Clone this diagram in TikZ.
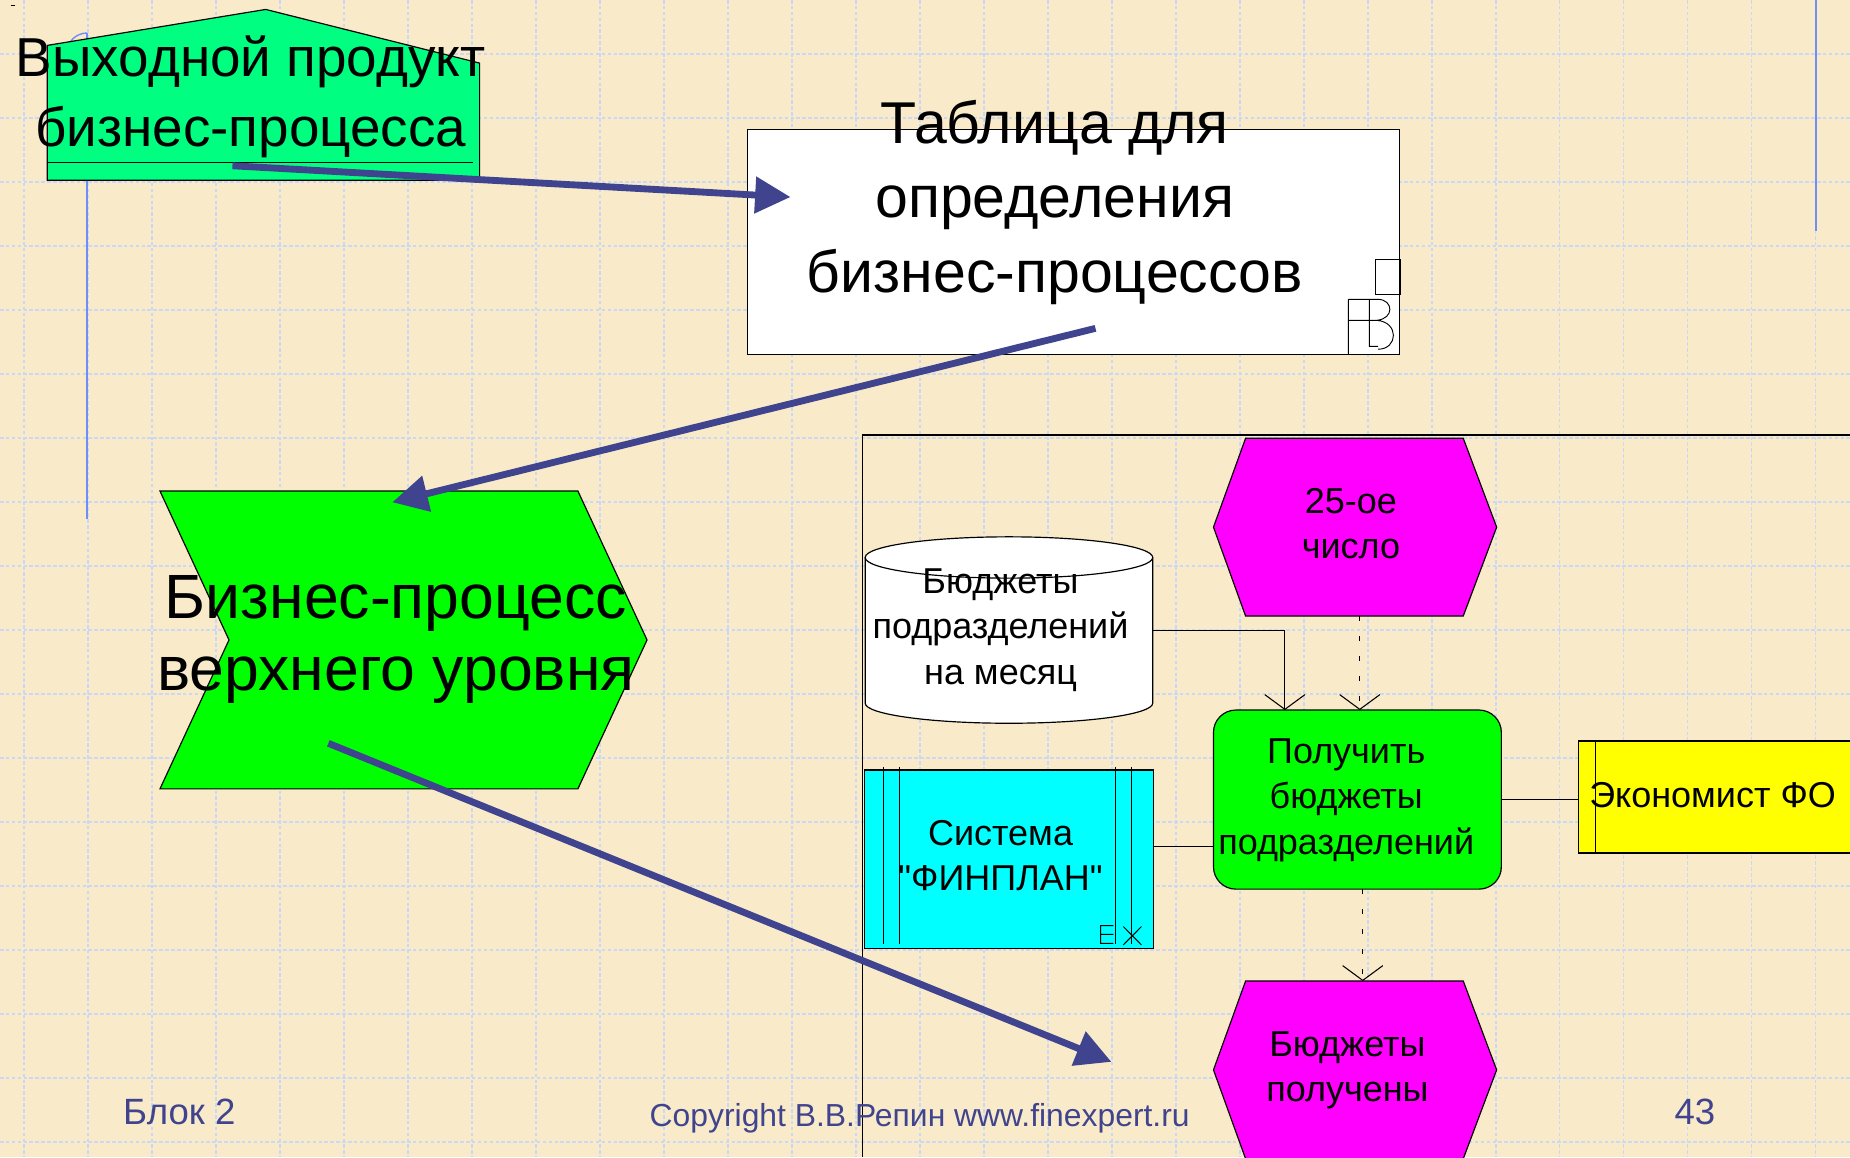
\documentclass[tikz,border=0pt]{standalone}
\usepackage{fontspec}
\setmainfont{Liberation Sans}
% same face without the TeX quote mapping, for straight quotes
\newfontfamily\straightquotes{Liberation Sans}
\usetikzlibrary{arrows.meta,calc}

\definecolor{paper}{RGB}{249,235,202}
\definecolor{gridblue}{RGB}{202,216,246}
\definecolor{marginblue}{RGB}{112,142,245}
\definecolor{ink}{RGB}{64,68,142}
\definecolor{prodgreen}{RGB}{0,255,128}
\definecolor{procgreen}{RGB}{0,255,0}
\definecolor{evmagenta}{RGB}{255,0,255}
\definecolor{syscyan}{RGB}{0,255,255}
\definecolor{orgyellow}{RGB}{255,255,0}

\pgfdeclarelayer{back}
\pgfdeclarelayer{shapes}
\pgfsetlayers{back,shapes,main}

\begin{document}
\begin{tikzpicture}[x=1pt,y=-1pt,
  holder/.style={inner sep=0pt,outer sep=0pt},
  gridline/.style={draw=gridblue,line width=1.1pt,dash pattern=on 3pt off 2pt},
  marginline/.style={draw=marginblue,line width=1.5pt},
  shapeline/.style={draw=black,line width=1pt},
  words/.style={inner sep=0pt,outer sep=0pt,align=center,text=black},
  hugetext/.style={words,font=\fontsize{53}{61.5}\selectfont},
  bigtext/.style={words,font=\fontsize{50}{63}\selectfont},
  prodtext/.style={words,font=\fontsize{46.5}{59}\selectfont},
  smalltext/.style={words,font=\fontsize{30.5}{38.5}\selectfont},
  foot/.style={inner sep=0pt,outer sep=0pt,text=ink},
  plainlink/.style={draw=black,line width=0.9pt},
  flowarrow/.style={plainlink,-{Straight Barb[length=12.5pt,width=34pt]}},
  trigarrow/.style={flowarrow,dash pattern=on 4pt off 13pt},
  thickarrow/.style={draw=ink,line width=5.8pt,-{Triangle[length=30pt,width=30pt]}}
]
\useasboundingbox (0,0) rectangle (1568,981);

% ---------- shape holders ----------
\node[holder,minimum width=366.5pt,minimum height=144.8pt] (prod) at (223.25,80.4) {};
\node[holder,minimum width=553pt,minimum height=191pt] (tab) at (910,205.3) {};
\node[holder,minimum width=412.8pt,minimum height=252.4pt] (proc) at (342,542.4) {};
\node[holder,minimum width=240pt,minimum height=150.6pt] (ev1) at (1148.5,446.8) {};
\node[holder,minimum width=243.7pt,minimum height=158pt] (store) at (855.15,534) {};
\node[holder,minimum width=244pt,minimum height=151.8pt] (func) at (1150.5,677.7) {};
\node[holder,minimum width=244.4pt,minimum height=151.4pt] (sys) at (855.2,728.3) {};
\node[holder,minimum width=240pt,minimum height=95pt] (org) at (1458,675.5) {};
\node[holder,minimum width=240pt,minimum height=150.6pt] (ev2) at (1148.5,906.8) {};

% ---------- page, grid and margin marks ----------
\begin{pgfonlayer}{back}
  \fill[paper] (0,0) rectangle (1568,981);
  \foreach \i in {0,...,28}
    \draw[gridline] ({20.3+54.24*\i},0) -- ({20.3+54.24*\i},981);
  \foreach \j in {0,...,17}
    \draw[gridline] (0,{45.8+54.24*\j}) -- (1568,{45.8+54.24*\j});
  \draw[marginline] (1539,0) -- (1539,196);
  \draw[marginline,line width=1.2pt] (73.7,28) -- (73.7,440);
  \draw[marginline,line width=1.2pt] (39.5,45) -- (73.7,45);
  \draw[marginline,line width=1.2pt] (56.7,45) arc[start angle=180,end angle=270,radius=17];
  \draw[black,line width=0.8pt] (9,5) -- (13,5);
\end{pgfonlayer}

% ---------- shapes ----------
\begin{pgfonlayer}{shapes}
  % product (house)
  \filldraw[fill=prodgreen,shapeline]
    (prod.south west) -- ($(prod.north west)+(0,30.5)$) -- ($(prod.north west)+(185.2,0)$)
    -- ($(prod.north east)+(0,45.5)$) -- (prod.south east) -- cycle;
  \draw[shapeline] ($(prod.south west)+(0,-15)$) -- ($(prod.south east)+(-6,-15)$);

  % table
  \filldraw[fill=white,shapeline] (tab.north west) rectangle (tab.south east);
  \draw[shapeline,line width=0.8pt] (1186.6,220) rectangle (1166,249.5);
  \draw[black,line width=0.8pt]
    (1142.8,253.7) -- (1142.8,300)
    (1142.8,253.7) -- (1160.6,253.7)
    (1142.8,271.5) -- (1160.6,271.5)
    (1160.6,253.7) -- (1160.6,293.5) -- (1168,293.5)
    (1160.6,253.7) -- (1168,253.7)
    (1160.6,271.5) -- (1167,271.5)
    (1168,253.7) .. controls (1181,254) and (1182,270) .. (1167,271.5)
    (1167,271.5) .. controls (1186,273) and (1185,296) .. (1168,296);

  % process (chevron)
  \filldraw[fill=procgreen,shapeline]
    (proc.north west) -- ($(proc.north east)+(-58.6,0)$) -- (proc.east)
    -- ($(proc.south east)+(-58.6,0)$) -- (proc.south west) -- ($(proc.west)+(58.5,0)$) -- cycle;

  % events (hexagons)
  \foreach \ev in {ev1,ev2}
    \filldraw[fill=evmagenta,shapeline]
      ($(\ev.north west)+(27.2,0)$) -- ($(\ev.north east)+(-28.3,0)$) -- (\ev.east)
      -- ($(\ev.south east)+(-28.3,0)$) -- ($(\ev.south west)+(27.2,0)$) -- (\ev.west) -- cycle;

  % data store (cylinder)
  \filldraw[fill=white,shapeline]
    ($(store.north west)+(0,17.5)$) -- ($(store.south west)+(0,-17)$)
    arc[start angle=180,end angle=0,x radius=121.85,y radius=17]
    -- ($(store.north east)+(0,17.5)$)
    arc[start angle=0,end angle=-180,x radius=121.85,y radius=17.5] -- cycle;
  \draw[shapeline] ($(store.north west)+(0,17.5)$)
    arc[start angle=180,end angle=0,x radius=121.85,y radius=17.5];

  % function (rounded box)
  \filldraw[fill=procgreen,shapeline,rounded corners=19pt] (func.north west) rectangle (func.south east);

  % application system
  \filldraw[fill=syscyan,shapeline] (sys.north west) rectangle (sys.south east);
  \foreach \x in {748.7,762.3,945.2,959.1}
    \draw[black,line width=0.8pt] (\x,650.5) -- (\x,800);
  \draw[black,line width=0.8pt]
    (943.6,784.5) -- (932.8,784.5) -- (932.8,799.5) -- (943.6,799.5)
    (932.8,791.9) -- (943.6,791.9)
    (952,785.3) -- (967.5,800.9)
    (952,800.9) -- (967.5,785.3);

  % organisational unit
  \filldraw[fill=orgyellow,shapeline] (org.north west) rectangle (org.south east);
  \draw[black,line width=0.8pt] (1352.5,629) -- (1352.5,722);

  % frame of the detail view
  \draw[black,line width=1.5pt] (1568,369) -- (731,369) -- (731,981);
\end{pgfonlayer}

% ---------- texts ----------
\node[prodtext] (prodText) at (212.5,82) {Выходной продукт\\бизнес-процесса};
\node[bigtext] (tabText) at (894,171.5) {Таблица для\\определения\\бизнес-процессов};
\node[hugetext] (procText) at (335.5,542) {Бизнес-процесс\\верхнего уровня};
\node[smalltext] (ev1Text) at (1145,444) {25-ое\\число};
\node[smalltext] (storeText) at (848,534) {Бюджеты\\подразделений\\на месяц};
\node[smalltext] (funcText) at (1141,678) {Получить\\бюджеты\\подразделений};
\node[smalltext] (sysText) at (848,725) {Система\\{\straightquotes"ФИНПЛАН"}};
\node[smalltext,anchor=base west] (orgText) at (1347,684) {Экономист ФО};
\node[smalltext] (ev2Text) at (1142,907) {Бюджеты\\получены};

\node[foot,anchor=base,font=\fontsize{31}{31}\selectfont] (blockNo) at (152,953.5) {Блок 2};
\node[foot,anchor=base,font=\fontsize{27}{27}\selectfont] (copyright) at (779.5,955) {Copyright В.В.Репин www.finexpert.ru};
\node[foot,anchor=base,font=\fontsize{31}{31}\selectfont] (pageNo) at (1436.5,953.5) {43};

% ---------- connectors ----------
\draw[flowarrow] (store.east) -| ($(func.north)+(-61.5,0)$);
\draw[trigarrow] ($(ev1.south)+(4,0)$) -- ($(func.north)+(2,0)$);
\draw[trigarrow] ($(func.south)+(4.5,0)$) -- ($(ev2.north)+(6.5,0)$);
\draw[plainlink] ($(sys.east)+(0,-10.8)$) coordinate (sysPort) -- (sysPort -| func.west);
\draw[plainlink] (func.east) -- (func.east -| org.west);

% ---------- navigation arrows ----------
\coordinate (a1from) at (197,140.5);
\coordinate (a1to) at (670,167);
\coordinate (a2from) at (928.5,278.3);
\coordinate (a2to) at (332.5,425.7);
\coordinate (a3from) at (278.3,630);
\coordinate (a3to) at (942,900);
\draw[thickarrow] (a1from) -- (a1to);
\draw[thickarrow] (a2from) -- (a2to);
\draw[thickarrow] (a3from) -- (a3to);
\end{tikzpicture}
\end{document}
